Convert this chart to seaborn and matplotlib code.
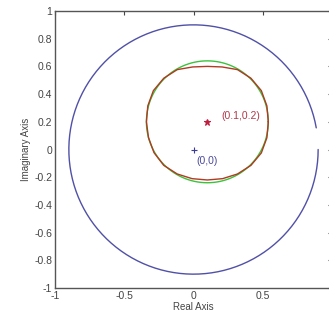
import numpy as np
import pandas as pd
import matplotlib
matplotlib.use("Agg")
import matplotlib.pyplot as plt
import seaborn as sns

# big circle (blue), with a gap near angle 0
big_center = (0.0, 0.0)
big_radius = 0.90
big_arc_deg = (10, 360)

# target circle (green)
green_center = (0.1, 0.2)
green_radius = 0.44

# estimated curve (red): radius read off every 15 deg around (0.1, 0.2)
red_center = (0.1, 0.2)
red_angles = [0, 15, 30, 45, 60, 75, 90, 105, 120, 135, 150, 165,
              180, 195, 210, 225, 240, 255, 270, 285, 300, 315, 330, 345, 360]
red_radii = [0.44, 0.445, 0.45, 0.445, 0.435, 0.41, 0.40, 0.41, 0.435, 0.445, 0.45, 0.445,
             0.44, 0.44, 0.445, 0.445, 0.435, 0.425, 0.42, 0.425, 0.435, 0.445, 0.45, 0.445, 0.44]

points = {"(0.1,0.2)": (0.1, 0.2), "(0,0)": (0.0, 0.0)}

xticks = [-1, -0.5, 0, 0.5]
xticklabels = ["-1", "-0.5", "0", "0.5"]
yticks = [-1, -0.8, -0.6, -0.4, -0.2, 0, 0.2, 0.4, 0.6, 0.8, 1]
yticklabels = ["-1", "-0.8", "-0.6", "-0.4", "-0.2", "0", "0.2", "0.4", "0.6", "0.8", "1"]


def circle(center, r, a0=0, a1=360, n=361):
    t = np.deg2rad(np.linspace(a0, a1, n))
    return pd.DataFrame({"x": center[0] + r * np.cos(t), "y": center[1] + r * np.sin(t)})


sns.set_style("white")
plt.rcParams["font.family"] = ["Liberation Sans", "DejaVu Sans"]

fig = plt.figure(figsize=(3.29, 3.22), dpi=100)
ax = fig.add_axes([55 / 329, 34 / 322, 277 / 329, 277 / 322])

df_big = circle(big_center, big_radius, *big_arc_deg)
df_green = circle(green_center, green_radius)
t = np.deg2rad(red_angles)
df_red = pd.DataFrame({"x": red_center[0] + np.array(red_radii) * np.cos(t),
                       "y": red_center[1] + np.array(red_radii) * np.sin(t)})

kw = dict(x="x", y="y", sort=False, estimator=None, lw=1.0, ax=ax)
sns.lineplot(data=df_big, color="#5050a8", **kw)
sns.lineplot(data=df_green, color="#3cc23c", **kw)
sns.lineplot(data=df_red, color="#b03a22", **kw)

ax.plot(*points["(0.1,0.2)"], marker="*", color="#c02040", ms=5, mew=0.8)
ax.plot(*points["(0,0)"], marker="+", color="#3a3a9a", ms=5, mew=0.8)
ax.text(0.2, 0.245, "(0.1,0.2)", color="#b0384a", fontsize=7.5, va="center", ha="left")
ax.text(0.02, -0.085, "(0,0)", color="#4a4a9a", fontsize=7.5, va="center", ha="left")

ax.set_xlim(-1, 1)
ax.set_ylim(-1, 1)
ax.set_xticks(xticks, xticklabels)
ax.set_yticks(yticks, yticklabels)
ax.set_xlabel("Real Axis", fontsize=7, color="#444444", labelpad=1)
ax.set_ylabel("Imaginary Axis", fontsize=7, color="#444444", labelpad=2)
ax.tick_params(direction="in", length=3, width=0.8, labelsize=7.5, colors="#444444",
               top=True, right=True, pad=2)
for s in ax.spines.values():
    s.set_color("#555555")
    s.set_linewidth(1.0)

fig.savefig("out.png", dpi=100)
